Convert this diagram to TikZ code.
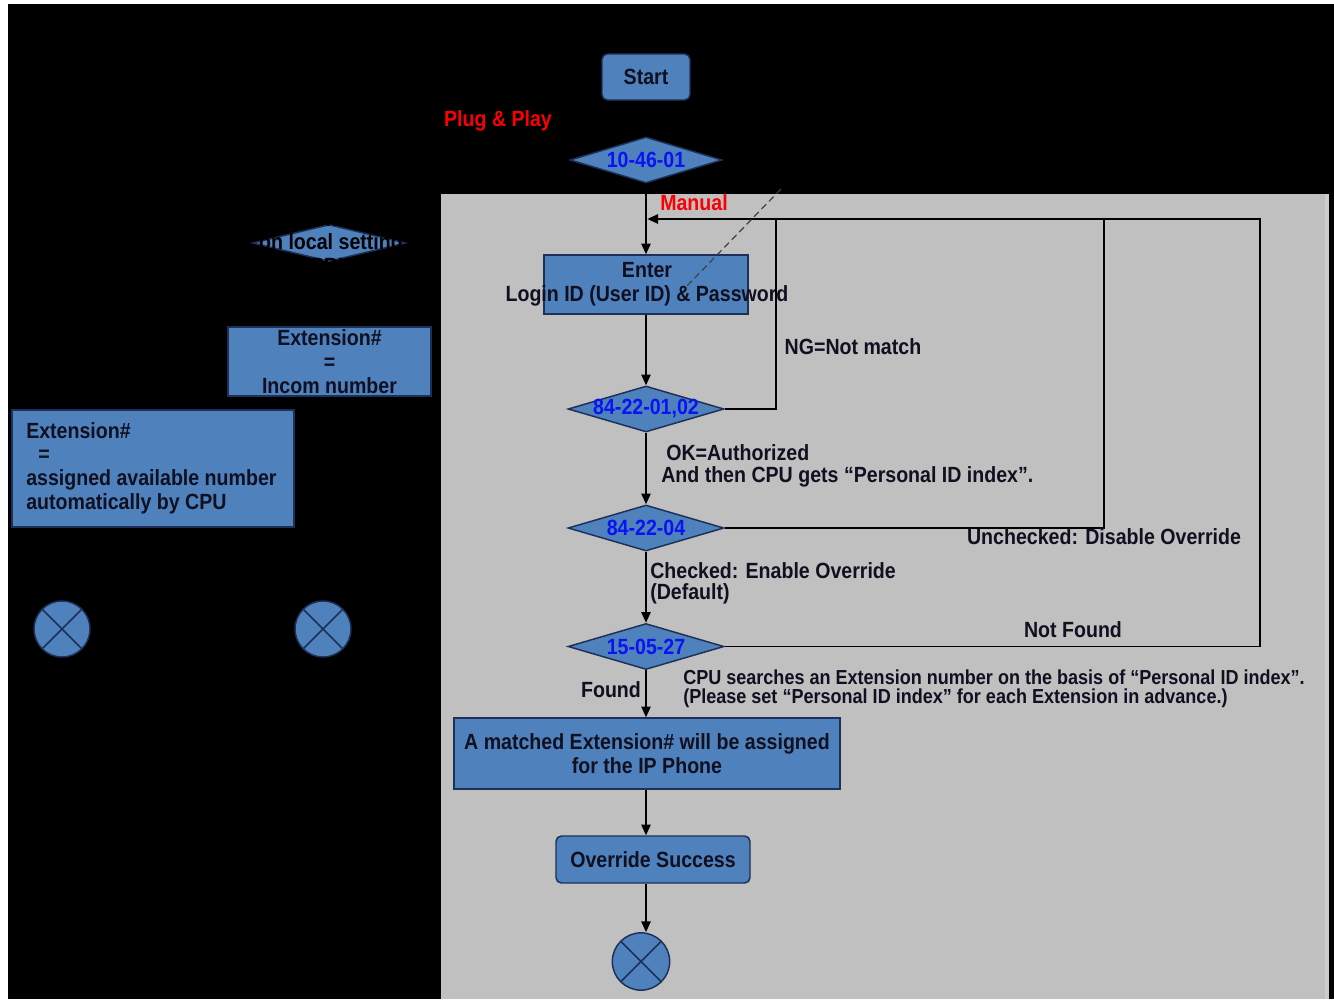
\documentclass[tikz,border=0pt]{standalone}
\usepackage{fontspec}
\setmainfont{Liberation Sans}[FakeStretch=0.89]
\usetikzlibrary{arrows.meta,shapes.geometric}
\definecolor{boxblue}{RGB}{79,129,189}
\definecolor{boxedge}{RGB}{28,48,88}
\definecolor{panel}{RGB}{192,192,192}
\definecolor{codeblue}{RGB}{10,20,240}
\definecolor{ink}{RGB}{16,16,32}
\definecolor{redtext}{RGB}{250,0,0}
\begin{document}
\begin{tikzpicture}[x=0.75pt,y=-0.75pt,
  font=\fontsize{16.5}{17.8}\selectfont\bfseries,
  box/.style={draw=boxedge,line width=1.1pt,fill=boxblue,inner sep=0pt,text=ink},
  rbox/.style={box,rounded corners=4pt},
  dia/.style={diamond,draw=boxedge,line width=1.1pt,fill=boxblue,inner sep=0pt,
    minimum height=34.5pt,text=codeblue},
  endc/.style={circle,draw=boxedge,line width=1.1pt,fill=boxblue,minimum size=43pt,inner sep=0pt,
    path picture={\draw[boxedge,line width=1.1pt]
      (path picture bounding box.north west) -- (path picture bounding box.south east)
      (path picture bounding box.north east) -- (path picture bounding box.south west);}},
  flow/.style={draw=black,line width=1.1pt},
  arr/.style={flow,-{Triangle[length=8pt,width=7pt]}},
  lbl/.style={text=ink,inner sep=0pt},
  note/.style={lbl,anchor=west,font=\fontsize{15.2}{16}\selectfont\bfseries},
  redlbl/.style={text=redtext,inner sep=0pt}]
\useasboundingbox (0,0) rectangle (1334,999);
% page, dark backdrop and the grey panel of the override flow
\fill[white] (0,0) rectangle (1334,999);
\fill[black] (8,4) rectangle (1334,999);
\fill[panel] (441,194) rectangle (1328,999);
\fill[panel!80!white] (1325,194) rectangle (1329,999);

% ---- left branch (automatic assignment) ----
\node[dia,minimum width=114.75pt,minimum height=27.75pt] (ls) at (329,243) {};
\node[lbl,align=center,text=black] (lst) at (331,242) {Extension\\on local setting\\PBX};
\node[box,minimum width=152.25pt,minimum height=51.75pt,align=center] (inc) at (329.5,361.5)
  {Extension\#\\=\\Incom number};
\node[box,minimum width=211.5pt,minimum height=87.75pt] (auto) at (153,468.5) {};
\node[lbl,anchor=north west,align=left] (autot) at (26,422)
  {Extension\#\\\hspace*{9pt}=\\assigned available number\\automatically by CPU};
\node[endc,minimum size=42pt] (endl) at (62,629) {};
\node[endc,minimum size=42pt] (endm) at (323,629) {};

% ---- main flow ----
\node[rbox,minimum width=66pt,minimum height=34.5pt] (start) at (646,77) {Start};
\node[redlbl] (pnp) at (498,121) {Plug \& Play};
\node[dia,minimum width=114pt] (d1) at (646,160) {};
\node[text=codeblue,inner sep=0pt] at (d1.center) {10-46-01};
\node[redlbl] (man) at (694,203) {Manual};

\node[box,minimum width=153pt,minimum height=44.25pt] (enter) at (646,284.5) {};
\node[lbl,align=center] (entert) at (647,284.5) {Enter\\Login ID (User ID) \& Password};

\node[dia,minimum width=117pt] (d2) at (646,409) {};
\node[text=codeblue,inner sep=0pt] at (d2.center) {84-22-01,02};
\node[dia,minimum width=117pt] (d3) at (646,528) {};
\node[text=codeblue,inner sep=0pt] at (d3.center) {84-22-04};
\node[dia,minimum width=117pt] (d4) at (646,646.5) {};
\node[text=codeblue,inner sep=0pt] at (d4.center) {15-05-27};

\node[box,minimum width=289.5pt,minimum height=53.25pt,align=center] (match) at (647,753.5)
  {A matched Extension\# will be assigned\\for the IP Phone};
\node[rbox,minimum width=145.5pt,minimum height=35.25pt] (ok) at (653,859.5) {Override Success};
\node[endc] (endr) at (641,961.5) {};

% feedback corners
\coordinate (join) at (646,219);
\coordinate (fb1) at (776,219);
\coordinate (fb2) at (1104,219);
\coordinate (fb3) at (1260,219);
\coordinate (dashA) at (781,189);
\coordinate (dashB) at (684,289);

% connectors
\draw[arr] (d1.south) -- (enter.north);
\draw[arr] (enter.south) -- (d2.north);
\draw[arr] (d2.south) -- (d3.north);
\draw[arr] (d3.south) -- (d4.north);
\draw[arr] (d4.south) -- (match.north -| d4.south);
\draw[arr] (match.south -| d4.south) -- (ok.north -| d4.south);
\draw[arr] (ok.south -| d4.south) -- (endr.north -| d4.south);
\draw[flow] (d2.east) -| (fb1);
\draw[flow] (d3.east) -| (fb2);
\draw[arr] (d4.east) -| (fb3) -- ([xshift=1pt]join);
\draw[dashed,draw=black!75,line width=0.9pt,dash pattern=on 5pt off 3pt] (dashA) -- (dashB);

% branch labels
\node[lbl] (ng) at (853,347) {NG=Not match};
\node[lbl,anchor=west] (okl) at (666,453) {OK=Authorized};
\node[lbl,anchor=west] (pid) at (661,477) {And then CPU gets “Personal ID index”.};
\node[lbl] (unc) at (1104,537) {Unchecked: Disable Override};
\node[lbl,anchor=west] (chk) at (650,571) {Checked: Enable Override};
\node[lbl,anchor=west] (dflt) at (650,594) {(Default)};
\node[lbl] (nf) at (1073,630) {Not Found};
\node[note] (srch) at (683,677) {CPU searches an Extension number on the basis of “Personal ID index”.};
\node[note] (pls) at (683,698) {(Please set “Personal ID index” for each Extension in advance.)};
\node[lbl] (fnd) at (611,690) {Found};
\end{tikzpicture}
\end{document}
